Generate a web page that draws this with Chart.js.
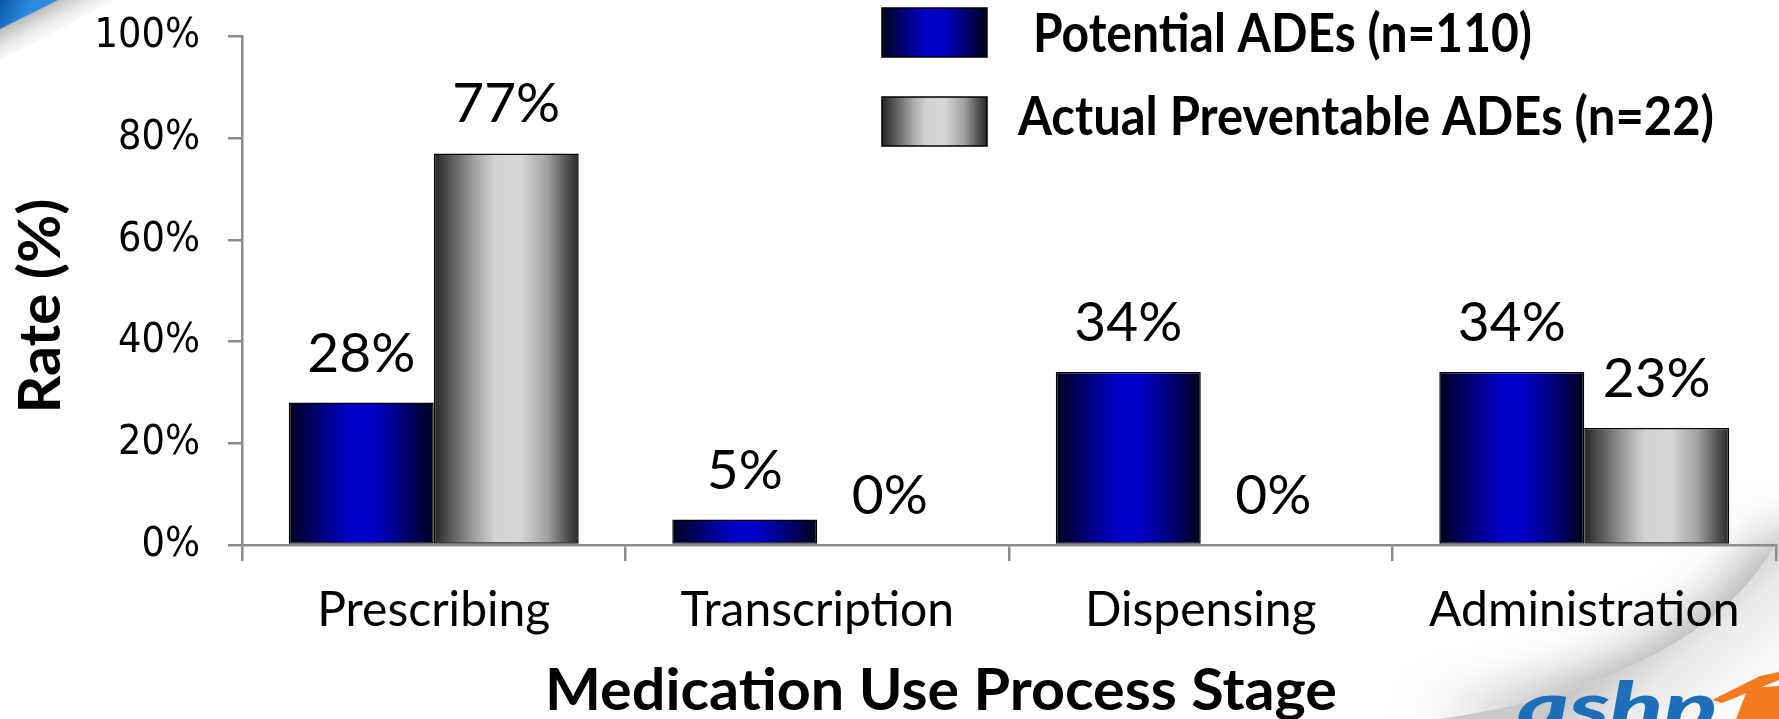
<!DOCTYPE html>
<html>
<head>
<meta charset="utf-8">
<title>Medication Use Process Stage</title>
<script src="https://cdn.jsdelivr.net/npm/chart.js@4.4.1/dist/chart.umd.min.js"></script>
<style>
  html, body { margin: 0; padding: 0; background: #ffffff; overflow: hidden; }
  #wrap { width: 1779px; height: 719px; position: relative; }
</style>
</head>
<body>
<div id="wrap"><canvas id="chart" width="1779" height="719"></canvas></div>
<script>
// ---- data ----
const stages = ['Prescribing', 'Transcription', 'Dispensing', 'Administration'];
const potentialADEs = [28, 5, 34, 34];
const actualPreventableADEs = [77, 0, 0, 23];
const seriesNames = ['Potential ADEs (n=110)', 'Actual Preventable ADEs (n=22)'];
const rateTicks = [0, 20, 40, 60, 80, 100];
const yAxisTitle = 'Rate (%)';
const xAxisTitle = 'Medication Use Process Stage';

// ---- style ----
const AXIS_GRAY = '#8c8c8c';
const TEXT = '#000000';
const LATO = 'Lato, "Open Sans", sans-serif';
const blueShade = [[0, '#00001c'], [0.18, '#00006a'], [0.42, '#0000c8'], [0.58, '#0000c8'], [0.82, '#00006c'], [1, '#00001a']];
const grayShade = [[0, '#242424'], [0.12, '#595959'], [0.3, '#a9a9a9'], [0.42, '#d3d3d3'], [0.6, '#d6d6d6'], [0.78, '#a2a2a2'], [0.92, '#505050'], [1, '#282828']];
const shades = [blueShade, grayShade];

function hGradient(ctx, left, right, stops) {
  const g = ctx.createLinearGradient(left, 0, right, 0);
  stops.forEach(([o, c]) => g.addColorStop(o, c));
  return g;
}

// text squeezed/stretched horizontally to a given run length
function fittedText(ctx, text, x, y, font, width, align, angle) {
  ctx.save();
  ctx.font = font;
  const w = ctx.measureText(text).width;
  ctx.translate(x, y);
  if (angle) ctx.rotate(angle);
  ctx.scale(width / w, 1);
  ctx.textAlign = align;
  ctx.textBaseline = 'alphabetic';
  ctx.fillStyle = TEXT;
  ctx.fillText(text, 0, 0);
  ctx.restore();
}

function curlPath(ctx, W, H) {
  ctx.beginPath();
  ctx.moveTo(W, 540);
  ctx.quadraticCurveTo(1700, 680, 1440, H);
  ctx.lineTo(W + 60, H + 60);
  ctx.lineTo(W + 60, 540);
  ctx.closePath();
}

// slide backdrop: corner band top-left, page curl and logo bottom-right
const backdrop = {
  id: 'backdrop',
  beforeDraw(chart) {
    const ctx = chart.ctx;
    const W = chart.width, H = chart.height;
    ctx.save();
    ctx.fillStyle = '#ffffff';
    ctx.fillRect(0, 0, W, H);

    // corner band
    let g = ctx.createLinearGradient(27, 14, 46, 50);
    g.addColorStop(0, 'rgba(110,110,110,0.5)');
    g.addColorStop(1, 'rgba(255,255,255,0)');
    ctx.fillStyle = g;
    ctx.beginPath();
    ctx.moveTo(0, 0); ctx.lineTo(115, 0); ctx.lineTo(0, 60); ctx.closePath();
    ctx.fill();
    g = ctx.createLinearGradient(0, 0, 26, 14);
    g.addColorStop(0, '#0a58a6');
    g.addColorStop(1, '#2a8be0');
    ctx.fillStyle = g;
    ctx.beginPath();
    ctx.moveTo(0, 0); ctx.lineTo(58, 0); ctx.lineTo(0, 29); ctx.closePath();
    ctx.fill();

    // page curl: soft shadow outside, light shading inside
    ctx.save();
    curlPath(ctx, W, H);
    ctx.shadowColor = 'rgba(0,0,0,0.32)';
    ctx.shadowBlur = 50;
    ctx.shadowOffsetX = -14;
    ctx.shadowOffsetY = -6;
    ctx.fillStyle = '#ffffff';
    ctx.fill();
    ctx.restore();
    g = ctx.createLinearGradient(1660, 620, 1745, 719);
    g.addColorStop(0, '#c9c9c9');
    g.addColorStop(0.35, '#e9e9e9');
    g.addColorStop(1, '#ffffff');
    ctx.fillStyle = g;
    curlPath(ctx, W, H);
    ctx.fill();

    // logo
    ctx.fillStyle = '#1c6fb8';
    ctx.font = 'italic 900 66px ' + LATO;
    const lw = ctx.measureText('ashp').width;
    ctx.save();
    ctx.translate(1517, 730);
    ctx.scale(200 / lw, 1);
    ctx.fillText('ashp', 0, 0);
    ctx.restore();
    ctx.fillStyle = '#f47b20';
    ctx.beginPath();
    ctx.moveTo(1712, 700); ctx.lineTo(1760, 676); ctx.lineTo(1779, 672);
    ctx.lineTo(1779, 680); ctx.lineTo(1722, 703); ctx.closePath();
    ctx.fill();
    ctx.beginPath();
    ctx.moveTo(1748, 688); ctx.lineTo(1779, 686); ctx.lineTo(1779, H); ctx.lineTo(1736, H);
    ctx.closePath();
    ctx.fill();
    ctx.restore();
  }
};

// cylinder-like horizontal shading on every bar
const barShading = {
  id: 'barShading',
  beforeDatasetsDraw(chart) {
    const ctx = chart.ctx;
    chart.data.datasets.forEach((ds, i) => {
      chart.getDatasetMeta(i).data.forEach(el => {
        const left = el.x - el.width / 2, right = el.x + el.width / 2;
        el.options = Object.assign({}, el.options, { backgroundColor: hGradient(ctx, left, right, shades[i]) });
      });
    });
  }
};

// value labels above each bar
const valueLabels = {
  id: 'valueLabels',
  afterDatasetsDraw(chart) {
    const ctx = chart.ctx;
    ctx.save();
    ctx.font = '55px ' + LATO;
    ctx.fillStyle = TEXT;
    ctx.textAlign = 'center';
    ctx.textBaseline = 'alphabetic';
    chart.data.datasets.forEach((ds, i) => {
      chart.getDatasetMeta(i).data.forEach((el, j) => {
        ctx.fillText(ds.data[j] + '%', el.x, el.y - 31);
      });
    });
    ctx.restore();
  }
};

// axis titles and legend
const annotations = {
  id: 'annotations',
  afterDraw(chart) {
    const ctx = chart.ctx;
    fittedText(ctx, xAxisTitle, 941, 710, 'bold 58px ' + LATO, 792, 'center');
    fittedText(ctx, yAxisTitle, 60, 306, 'bold 58px ' + LATO, 215, 'center', -Math.PI / 2);

    const rows = [
      { top: 8, textX: 1033, base: 52, width: 499 },
      { top: 97, textX: 1018, base: 135, width: 696 }
    ];
    chart.data.datasets.forEach((ds, i) => {
      const r = rows[i];
      const bx = 882, bw = 105, bh = 49;
      ctx.save();
      ctx.fillStyle = hGradient(ctx, bx, bx + bw, shades[i]);
      ctx.fillRect(bx, r.top, bw, bh);
      ctx.lineWidth = 1.5;
      ctx.strokeStyle = '#000';
      ctx.strokeRect(bx, r.top, bw, bh);
      ctx.restore();
      fittedText(ctx, ds.label, r.textX, r.base, 'bold 53px ' + LATO, r.width, 'left');
    });
  }
};

new Chart(document.getElementById('chart'), {
  type: 'bar',
  data: {
    labels: stages,
    datasets: [
      { label: seriesNames[0], data: potentialADEs, backgroundColor: '#0000c8' },
      { label: seriesNames[1], data: actualPreventableADEs, backgroundColor: '#cccccc' }
    ]
  },
  options: {
    responsive: false,
    devicePixelRatio: 1,
    animation: false,
    events: [],
    layout: { padding: { top: 36.5, right: 3, left: 0, bottom: 0 } },
    datasets: {
      bar: {
        categoryPercentage: 0.756,
        barPercentage: 1.0,
        borderColor: '#000000',
        borderWidth: 1.5,
        borderSkipped: false
      }
    },
    plugins: {
      legend: { display: false },
      tooltip: { enabled: false },
      title: { display: false }
    },
    scales: {
      x: {
        grid: { offset: true, drawOnChartArea: false, drawTicks: true, tickLength: 16, color: AXIS_GRAY, lineWidth: 2.5 },
        border: { display: true, color: AXIS_GRAY, width: 2.5 },
        ticks: { color: TEXT, font: { family: LATO, size: 48 }, padding: 21, maxRotation: 0, autoSkip: false },
        afterFit(scale) { scale.height = 174; }
      },
      y: {
        min: 0,
        max: 100,
        afterBuildTicks(scale) { scale.ticks = rateTicks.map(v => ({ value: v })); },
        grid: { drawOnChartArea: false, drawTicks: true, tickLength: 14, color: AXIS_GRAY, lineWidth: 2.5 },
        border: { display: true, color: AXIS_GRAY, width: 2.5 },
        ticks: {
          color: TEXT,
          padding: 28,
          font: { family: '"DejaVu Sans Condensed", "DejaVu Sans", sans-serif', size: 41 },
          callback: v => v + '%'
        },
        afterFit(scale) {
          scale.width = 242;
          scale.paddingTop = 0;
          scale.paddingBottom = 0;
        }
      }
    }
  },
  plugins: [backdrop, barShading, valueLabels, annotations]
});
</script>
</body>
</html>
